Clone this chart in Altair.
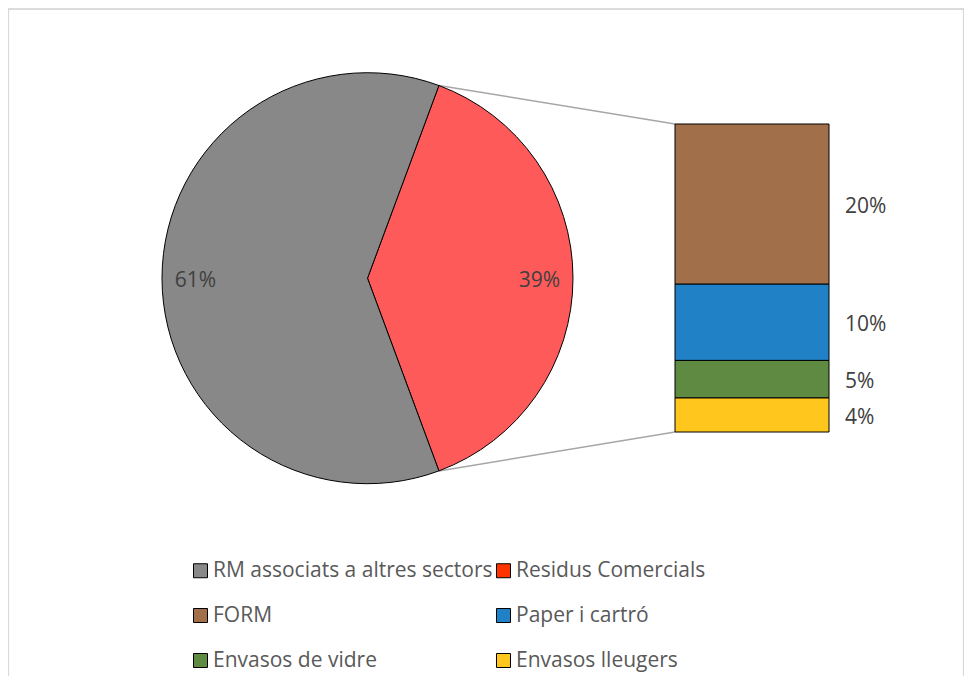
import math
import altair as alt
import pandas as pd

# ---- data ----
pie_categories = ["Residus Comercials", "RM associats a altres sectors"]
pie_values = [38.7, 61.3]
pie_colors = ["#FF5A5A", "#888888"]

bar_categories = ["FORM", "Paper i cartró", "Envasos de vidre", "Envasos lleugers"]
bar_values = [20.1, 9.6, 4.7, 4.3]

# legend order is filled column by column (3 rows x 2 columns)
legend_categories = ["RM associats a altres sectors", "FORM", "Envasos de vidre",
                     "Residus Comercials", "Paper i cartró", "Envasos lleugers"]
legend_colors = ["#888888", "#A1704B", "#5E8A41", "#FF3300", "#2181C6", "#FFC61E"]

FONT = "Open Sans"

# ---- layout (pixels inside the chart) ----
W, H = 956, 668
CX, CY, R = 359.5, 270.2, 205.5
LABEL_R = 172
BAR_X0, BAR_X1 = 667, 821
BAR_TOP, BAR_BOTTOM = 116, 424

red_share = pie_values[0] / sum(pie_values)
offset = math.pi / 2 - math.pi * red_share  # centre the red slice on 3 o'clock

pie_df = pd.DataFrame({
    "cat": pie_categories,
    "val": pie_values,
    "ord": list(range(len(pie_categories))),
})
pie_df["lbl"] = [f"{round(v)}%" for v in pie_values]

theta_scale = alt.Scale(range=[offset, offset + 2 * math.pi])
pie_base = alt.Chart(pie_df).encode(
    theta=alt.Theta("val:Q", stack=True, scale=theta_scale),
    order=alt.Order("ord:Q"),
    x=alt.value(CX),
    y=alt.value(CY),
)
pie = pie_base.mark_arc(radius=R, stroke="black", strokeWidth=1).encode(
    color=alt.Color("cat:N", scale=alt.Scale(domain=pie_categories, range=pie_colors), legend=None)
)
pie_text = pie_base.mark_text(radius=LABEL_R, font=FONT, fontSize=21, color="#404040", dy=3).encode(
    text="lbl:N"
)

# bar of pie: stacked from bottom (last category) to top (first)
total = sum(bar_values)
rows = []
cum = 0.0
for cat, v in reversed(list(zip(bar_categories, bar_values))):
    rows.append({"cat": cat, "y0": cum, "y1": cum + v, "mid": cum + v / 2, "lbl": f"{round(v)}%"})
    cum += v
bar_df = pd.DataFrame(rows)

yscale = alt.Scale(domain=[0, total], range=[BAR_BOTTOM, BAR_TOP], nice=False, zero=False)
bar = alt.Chart(bar_df).mark_rect(stroke="black", strokeWidth=1).encode(
    x=alt.value(BAR_X0),
    x2=alt.value(BAR_X1),
    y=alt.Y("y0:Q", scale=yscale, axis=None),
    y2="y1:Q",
    color=alt.Color(
        "cat:N",
        scale=alt.Scale(domain=legend_categories, range=legend_colors),
        legend=alt.Legend(
            title=None, orient="none", legendX=182, legendY=552, columns=2,
            symbolType="square", symbolSize=196, symbolStrokeColor="black",
            symbolStrokeWidth=1, labelFont=FONT, labelFontSize=21,
            labelColor="#595959", labelOffset=2, rowPadding=23, columnPadding=-2,
            padding=0, labelLimit=400,
        ),
    ),
)
bar_text = alt.Chart(bar_df).mark_text(align="left", baseline="middle", font=FONT,
                                        fontSize=21, color="#404040", dy=3).encode(
    x=alt.value(BAR_X1 + 16),
    y=alt.Y("mid:Q", scale=yscale, axis=None),
    text="lbl:N",
)

# connector lines from the red slice edges to the bar corners
a_top = offset
a_bot = offset + 2 * math.pi * red_share
conn_df = pd.DataFrame({
    "x": [CX + R * math.sin(a_top), CX + R * math.sin(a_bot)],
    "y": [CY - R * math.cos(a_top), CY - R * math.cos(a_bot)],
    "x2": [BAR_X0, BAR_X0],
    "y2": [BAR_TOP, BAR_BOTTOM],
})
pix = alt.Scale(domain=[0, W], range=[0, W])
piy = alt.Scale(domain=[0, H], range=[0, H])
conn = alt.Chart(conn_df).mark_rule(color="#A6A6A6", strokeWidth=1.5).encode(
    x=alt.X("x:Q", scale=pix, axis=None),
    x2="x2:Q",
    y=alt.Y("y:Q", scale=piy, axis=None),
    y2="y2:Q",
)

# outer frame (top, left, right)
frame = alt.Chart(pd.DataFrame({"a": [0]})).mark_rule(color="#D9D9D9", strokeWidth=1.2)
top_line = frame.encode(x=alt.value(0), x2=alt.value(W), y=alt.value(1.5))
left_line = frame.encode(x=alt.value(0.5), y=alt.value(0), y2=alt.value(H))
right_line = frame.encode(x=alt.value(W - 0.5), y=alt.value(0), y2=alt.value(H))

chart = alt.layer(
    top_line, left_line, right_line, conn, pie, pie_text, bar, bar_text
).resolve_scale(
    color="independent", y="independent", x="independent", theta="shared"
).properties(
    width=W, height=H, autosize=alt.AutoSizeParams(type="none"), padding=0
).configure_view(stroke=None).configure(background="white")

chart.save("out.html", embed_options={"renderer": "svg", "actions": False})
